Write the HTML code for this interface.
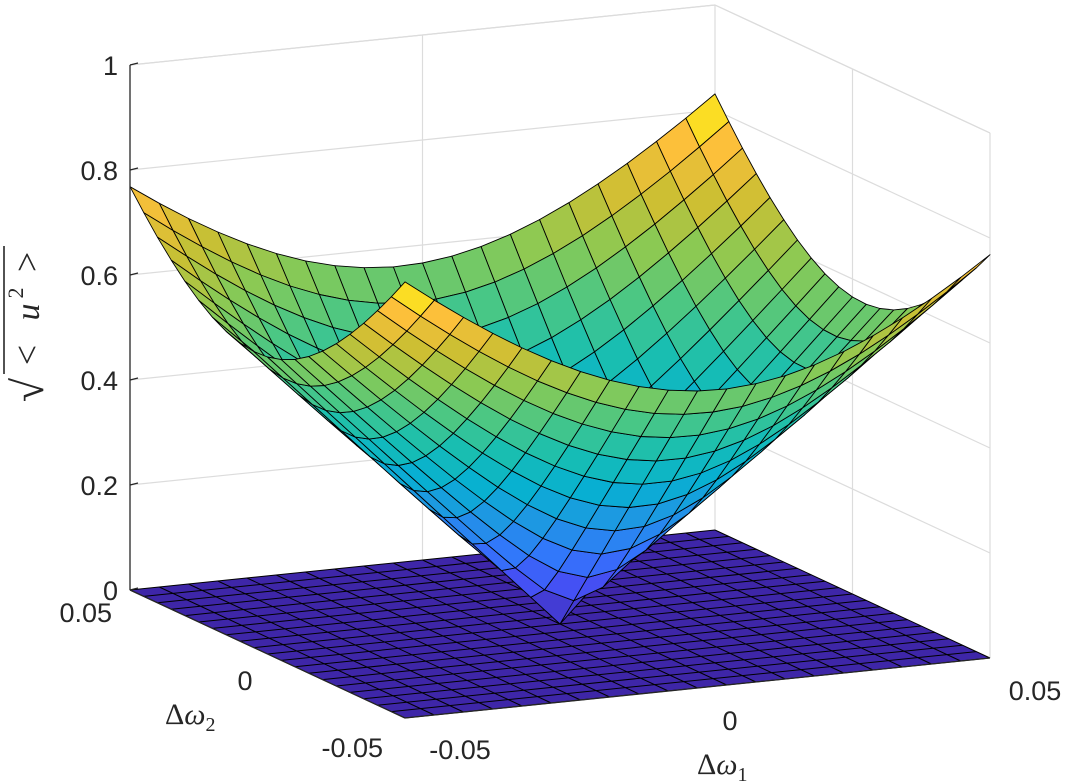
<!DOCTYPE html>
<html><head><meta charset="utf-8"><style>
html,body{margin:0;padding:0;background:#fff;}
svg{display:block;}
text{fill:#262626;}
.s{font-family:"Liberation Sans",sans-serif;}
.r{font-family:"Liberation Serif",serif;}
</style></head><body>
<svg id="s" width="1076" height="782" viewBox="0 0 1076 782" xmlns="http://www.w3.org/2000/svg">
<g id="walls" stroke="#dcdcdc" stroke-width="1.2" fill="none"></g>
<g id="floor"></g>
<g id="surf"></g>
<g id="axes" stroke="#262626" stroke-width="1.3" fill="none"></g>
<g id="labels" font-size="27" class="s">
<text class="s" x="118" y="75" text-anchor="end">1</text>
<text class="s" x="118" y="180" text-anchor="end">0.8</text>
<text class="s" x="118" y="285" text-anchor="end">0.6</text>
<text class="s" x="118" y="390" text-anchor="end">0.4</text>
<text class="s" x="118" y="495" text-anchor="end">0.2</text>
<text class="s" x="118" y="600" text-anchor="end">0</text>
<text class="s" x="112" y="622" text-anchor="end">0.05</text>
<text class="s" x="245" y="690" text-anchor="middle">0</text>
<text class="s" x="383" y="757" text-anchor="end">-0.05</text>
<text class="s" x="460" y="759" text-anchor="middle">-0.05</text>
<text class="s" x="730" y="730" text-anchor="middle">0</text>
<text class="s" x="1035" y="700" text-anchor="middle">0.05</text>
<text class="r" x="165" y="724" font-size="30">Δ<tspan font-style="italic">ω</tspan><tspan font-size="20" dy="7">2</tspan></text>
<text class="r" x="697" y="774" font-size="30">Δ<tspan font-style="italic">ω</tspan><tspan font-size="20" dy="7">1</tspan></text>
<g transform="translate(45,332) rotate(-90)">
<text class="r" x="-58" y="-2" font-size="44" text-anchor="middle">√</text>
<line x1="-42" y1="-41" x2="86" y2="-41" stroke="#262626" stroke-width="1.6"/>
<text class="r" x="-23" y="-6" font-size="36" text-anchor="middle">&lt;</text>
<text class="r" x="20" y="-6" font-size="34" font-style="italic" text-anchor="middle">u</text>
<text class="r" x="39" y="-22" font-size="22" text-anchor="middle">2</text>
<text class="r" x="70" y="-6" font-size="36" text-anchor="middle">&gt;</text>
</g>
</g>
</svg>
<script>
const NS="http://www.w3.org/2000/svg";
function P(u,v,z){return [405+585*u-275*v, 718-60*u-128*v-525*z];}
function Z(u,v){const x=2*u-1,y=2*v-1;return Math.sqrt(0.32*x*x+0.32*y*y+0.05*x*y);}
const zmax=Z(1,1);
const cm=[[0.2422,0.1504,0.6603],[0.2788,0.2925,0.9491],[0.2000,0.4600,0.9900],[0.1200,0.5900,0.8900],[0.0300,0.6900,0.8200],[0.0900,0.7450,0.7000],[0.2900,0.7800,0.5200],[0.5400,0.7900,0.3300],[0.8000,0.7500,0.2000],[0.9900,0.7500,0.2300],[0.9763,0.9831,0.0538]];
function col(t){t=Math.max(0,Math.min(1,t))*10;const i=Math.min(9,Math.floor(t)),f=t-i;const a=cm[i],b=cm[i+1];
return "rgb("+[0,1,2].map(k=>Math.round(255*(a[k]+(b[k]-a[k])*f))).join(",")+")";}
function el(g,tag,attrs){const e=document.createElementNS(NS,tag);for(const k in attrs)e.setAttribute(k,attrs[k]);document.getElementById(g).appendChild(e);return e;}
function line(g,a,b){el(g,"line",{x1:a[0],y1:a[1],x2:b[0],y2:b[1]});}
for(let i=1;i<=5;i++){const z=i*0.2;line("walls",P(0,1,z),P(1,1,z));line("walls",P(1,1,z),P(1,0,z));}
line("walls",P(0.5,1,0),P(0.5,1,1));line("walls",P(1,0.5,0),P(1,0.5,1));
line("walls",P(1,1,0),P(1,1,1));line("walls",P(1,0,0),P(1,0,1));
line("walls",P(0,1,1),P(1,1,1));line("walls",P(1,1,1),P(1,0,1));
const N=20;
{const g=document.getElementById("floor");
const c=P(0,0,0),r=P(1,0,0),b=P(1,1,0),l=P(0,1,0);
el("floor","polygon",{points:[c,r,b,l].map(p=>p.join(",")).join(" "),fill:"rgb(62,38,168)",stroke:"none"});
for(let i=0;i<=N;i++){const t=i/N;line("floor",P(t,0,0),P(t,1,0));line("floor",P(0,t,0),P(1,t,0));}
g.setAttribute("stroke","#000");g.setAttribute("stroke-width","1");}
const quads=[];
for(let i=0;i<N;i++)for(let j=0;j<N;j++){const u0=i/N,u1=(i+1)/N,v0=j/N,v1=(j+1)/N;
const pts=[[u0,v0],[u1,v0],[u1,v1],[u0,v1]];
const zs=pts.map(p=>Z(p[0],p[1]));const zm=(zs[0]+zs[1]+zs[2]+zs[3])/4;
const uc=(u0+u1)/2,vc=(v0+v1)/2;
quads.push({d:60*uc+128*vc,pts:pts.map((p,k)=>P(p[0],p[1],zs[k])),c:col(zm/zmax)});}
quads.sort((a,b)=>b.d-a.d);
for(const q of quads)el("surf","polygon",{points:q.pts.map(p=>p[0].toFixed(1)+","+p[1].toFixed(1)).join(" "),fill:q.c,stroke:"#000","stroke-width":"0.9","stroke-linejoin":"round"});
line("axes",P(0,1,0),P(0,1,1));
line("axes",P(0,1,0),P(0,0,0));line("axes",P(0,0,0),P(1,0,0));
for(let i=0;i<=5;i++){const p=P(0,1,i*0.2);line("axes",p,[p[0]+8,p[1]-2]);}
</script>
</body></html>
